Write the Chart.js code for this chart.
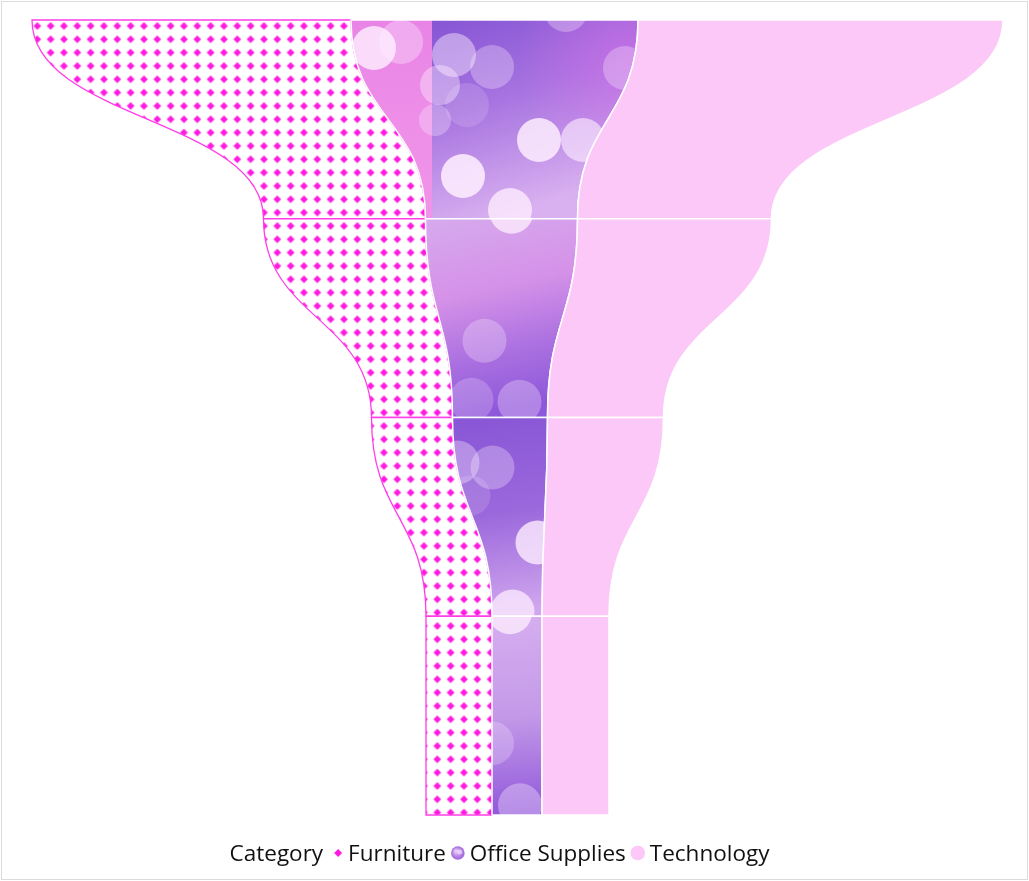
<!DOCTYPE html>
<html>
<head>
<meta charset="utf-8">
<script src="https://cdn.jsdelivr.net/npm/chart.js@4.4.1/dist/chart.umd.min.js"></script>
<style>
html,body{margin:0;padding:0;background:#fff;}
#wrap{width:1029px;height:881px;position:relative;}
</style>
</head>
<body>
<div id="wrap"><canvas id="c" width="1029" height="881"></canvas></div>
<script>
// ---------------- DATA ----------------
const stages = ['Stage 1', 'Stage 2', 'Stage 3', 'Stage 4'];
const seriesNames = ['Furniture', 'Office Supplies', 'Technology'];
const furniture = [319, 162, 81, 66];
const officeSupplies = [287, 152, 95, 50];
const technology = [365, 194, 116, 67];
const legendTitle = 'Category';

// ---------------- DERIVED ----------------
const seriesValues = [furniture, officeSupplies, technology];
const totals = stages.map((_, i) => seriesValues.reduce((s, arr) => s + arr[i], 0));
const maxTotal = Math.max(...totals);
function floatingRanges(k) {
  return stages.map((_, i) => {
    let start = -totals[i] / 2;
    for (let j = 0; j < k; j++) start += seriesValues[j][i];
    return [start, start + seriesValues[k][i]];
  });
}

// ---------------- STYLE / TEXTURES ----------------
const FONT = '"Segoe UI", "Open Sans", "Noto Sans", sans-serif';
const MAGENTA = '#ff1ae2';
const TECH_PINK = '#fcc8f7';

function makeDotPattern(ctx) {
  const c = document.createElement('canvas');
  c.width = 40; c.height = 40;
  const g = c.getContext('2d');
  g.fillStyle = '#ffffff';
  g.fillRect(0, 0, 40, 40);
  g.fillStyle = MAGENTA;
  g.strokeStyle = MAGENTA;
  g.lineJoin = 'round';
  g.lineWidth = 0.7;
  const p = 40 / 3;
  for (let r = 0; r < 3; r++) for (let q = 0; q < 3; q++) {
    const cx = p / 2 + q * p, cy = p / 2 + r * p, s = 3.5;
    g.beginPath();
    g.moveTo(cx, cy - s); g.lineTo(cx + s, cy); g.lineTo(cx, cy + s); g.lineTo(cx - s, cy);
    g.closePath(); g.fill(); g.stroke();
  }
  return ctx.createPattern(c, 'repeat');
}

// bokeh texture description per stage (relative to the stage box origin)
const bokeh = [
  { split: 81, pink: ['#e884e6', '#ee8ee8', '#ef94e8'],
    stops: [[0, '#8655d4'], [0.45, '#a673e0'], [1, '#d9b0f0']],
    circles: [[23,28,22,.8],[50,22,22,.35],[84,100,16,.3],[103,35,22,.45],[141,47,22,.3],[89,65,20,.4],
              [116,85,22,.15],[188,120,22,.82],[232,120,22,.6],[112,156,22,.85],[159,190,22,.75],[274,48,22,.3],[215,-10,22,.3]] },
  { stops: [[0, '#d6aaee'], [0.4, '#d592e8'], [0.75, '#a86ee0'], [1, '#8f58da']],
    circles: [[86,-7,22,.75],[59,122,22,.28],[46,181,22,.22],[94,183,22,.3]] },
  { stops: [[0, '#8856d6'], [0.5, '#9b68dc'], [1, '#d0a6ee']],
    circles: [[5,45,22,.35],[40,50,22,.3],[18,78,20,.15],[85,125,22,.78],[60,194,22,.72]] },
  { stops: [[0, '#d6aef0'], [0.5, '#c49ae8'], [1, '#9058da']],
    circles: [[18,-4,22,.75],[0,127,22,.25],[28,189,22,.35]] }
];

function drawBokeh(ctx, i, x, y, w, h) {
  const b = bokeh[i] || bokeh[bokeh.length - 1];
  let px = x;
  if (b.split) {
    const gp = ctx.createLinearGradient(0, y, 0, y + h);
    gp.addColorStop(0, b.pink[0]); gp.addColorStop(0.5, b.pink[1]); gp.addColorStop(1, b.pink[2]);
    ctx.fillStyle = gp;
    ctx.fillRect(x, y, b.split, h);
    px = x + b.split;
  }
  const g = ctx.createLinearGradient(px, y, px + (x + w - px) * 0.3, y + h);
  b.stops.forEach(s => g.addColorStop(s[0], s[1]));
  ctx.fillStyle = g;
  ctx.fillRect(px, y, x + w - px, h);
  if (b.split) {
    const rg = ctx.createRadialGradient(x + w - 10, y + 40, 5, x + w - 10, y + 40, 110);
    rg.addColorStop(0, 'rgba(215,110,230,0.55)');
    rg.addColorStop(1, 'rgba(215,110,230,0)');
    ctx.fillStyle = rg;
    ctx.fillRect(px, y, x + w - px, h);
  }
  b.circles.forEach(c => {
    ctx.fillStyle = 'rgba(255,240,255,' + c[3] + ')';
    ctx.beginPath();
    ctx.arc(x + c[0], y + c[1], c[2], 0, Math.PI * 2);
    ctx.fill();
  });
}

const funnelPlugin = {
  id: 'funnel',
  beforeDatasetsDraw(chart) {
    const ctx = chart.ctx;
    const n = stages.length;
    const area = chart.chartArea;
    const dotPattern = makeDotPattern(ctx);
    dotPattern.setTransform(new DOMMatrix().translate(area.left - 1.4, area.top - 0.7));
    chart.data.datasets.forEach((ds, k) => {
      const meta = chart.getDatasetMeta(k);
      for (let i = 0; i < n; i++) {
        const el = meta.data[i].getProps(['x', 'y', 'base', 'height'], true);
        const nx = i < n - 1 ? meta.data[i + 1].getProps(['x', 'base'], true) : el;
        const top = el.y - el.height / 2, bot = el.y + el.height / 2, mid = (top + bot) / 2;
        const L0 = Math.min(el.base, el.x), R0 = Math.max(el.base, el.x);
        const L1 = Math.min(nx.base, nx.x), R1 = Math.max(nx.base, nx.x);
        const p = new Path2D();
        p.moveTo(L0, top);
        p.lineTo(R0, top);
        p.bezierCurveTo(R0, mid, R1, mid, R1, bot);
        p.lineTo(L1, bot);
        p.bezierCurveTo(L1, mid, L0, mid, L0, top);
        p.closePath();
        ctx.save();
        if (k === 0) {
          ctx.fillStyle = dotPattern;
          ctx.fill(p);
          ctx.strokeStyle = '#ff3ee8';
          ctx.lineWidth = 1.3;
          ctx.stroke(p);
        } else if (k === 1) {
          ctx.save();
          ctx.clip(p);
          const bx = Math.min(L0, L1), bw = Math.max(R0, R1) - bx;
          drawBokeh(ctx, i, bx, top, bw, bot - top);
          ctx.restore();
          ctx.strokeStyle = '#ffffff';
          ctx.lineWidth = 1.5;
          ctx.stroke(p);
        } else {
          ctx.fillStyle = TECH_PINK;
          ctx.fill(p);
          ctx.strokeStyle = '#ffffff';
          ctx.lineWidth = 1.5;
          ctx.stroke(p);
        }
        ctx.restore();
      }
    });
  },
  afterDraw(chart) {
    const ctx = chart.ctx;
    ctx.save();
    // frame
    ctx.strokeStyle = '#dcdcdc';
    ctx.lineWidth = 1;
    ctx.strokeRect(1.5, 1.5, 1026, 878);
    // legend
    const y = 861, my = 853;
    ctx.font = '22.5px ' + FONT;
    ctx.textBaseline = 'alphabetic';
    ctx.fillStyle = '#111111';
    const wt = ctx.measureText(legendTitle).width;
    const ws = seriesNames.map(s => ctx.measureText(s).width);
    const gapTitle = 15, gapMarkText = [10, 12, 12], gapTextMark = 12;
    let total = wt + gapTitle;
    ws.forEach((w, k) => { total += gapMarkText[k] + w + (k < ws.length - 1 ? gapTextMark : 0); });
    let x = 499.5 - total / 2;
    ctx.fillText(legendTitle, x, y);
    x += wt + gapTitle;
    seriesNames.forEach((s, k) => {
      if (k === 0) {
        ctx.fillStyle = MAGENTA;
        ctx.beginPath();
        ctx.moveTo(x, my - 4); ctx.lineTo(x + 4, my); ctx.lineTo(x, my + 4); ctx.lineTo(x - 4, my);
        ctx.closePath(); ctx.fill();
      } else if (k === 1) {
        const g = ctx.createRadialGradient(x - 2, my - 2, 1, x, my, 7);
        g.addColorStop(0, '#e8c8f4'); g.addColorStop(0.6, '#b580e4'); g.addColorStop(1, '#9a66dc');
        ctx.fillStyle = g;
        ctx.beginPath(); ctx.arc(x, my, 6.8, 0, Math.PI * 2); ctx.fill();
        ctx.fillStyle = 'rgba(255,240,255,0.55)';
        ctx.beginPath(); ctx.arc(x + 2, my - 1, 2.5, 0, Math.PI * 2); ctx.fill();
      } else {
        ctx.fillStyle = TECH_PINK;
        ctx.beginPath(); ctx.arc(x, my, 7.3, 0, Math.PI * 2); ctx.fill();
      }
      x += gapMarkText[k];
      ctx.fillStyle = '#111111';
      ctx.fillText(s, x, y);
      x += ws[k] + gapTextMark;
    });
    ctx.restore();
  }
};

new Chart(document.getElementById('c').getContext('2d'), {
  type: 'bar',
  data: {
    labels: stages,
    datasets: seriesNames.map((name, k) => ({
      label: name,
      data: floatingRanges(k),
      backgroundColor: 'rgba(0,0,0,0)',
      borderWidth: 0,
      barPercentage: 1,
      categoryPercentage: 1
    }))
  },
  options: {
    indexAxis: 'y',
    responsive: false,
    animation: false,
    events: [],
    layout: { padding: { left: 32, top: 20, right: 26, bottom: 66 } },
    scales: {
      x: { display: false, stacked: false, min: -maxTotal / 2, max: maxTotal / 2 },
      y: { display: false, stacked: true }
    },
    plugins: { legend: { display: false }, tooltip: { enabled: false } }
  },
  plugins: [funnelPlugin]
});
</script>
</body>
</html>
